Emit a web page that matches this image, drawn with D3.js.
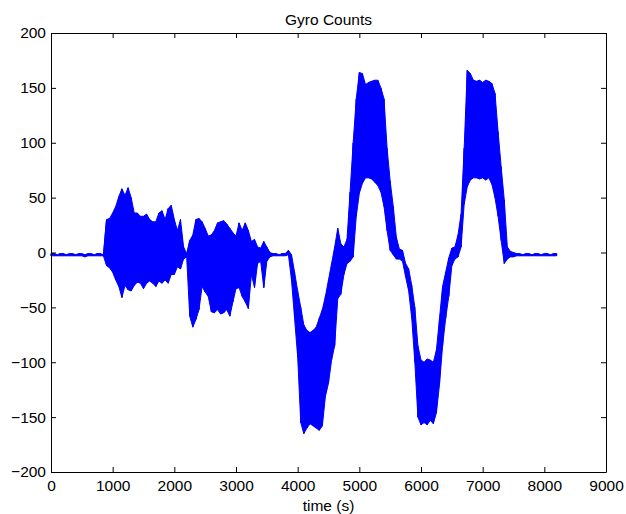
<!DOCTYPE html>
<html>
<head>
<meta charset="utf-8">
<script src="https://cdn.jsdelivr.net/npm/d3@7"></script>
<style>
  body { margin: 0; background: #fff; }
  svg { display: block; }
  .axis text { font-family: "Liberation Sans", Arial, Helvetica, sans-serif; font-size: 15.5px; fill: #000; }
  .axis path, .axis line { stroke: #000; stroke-width: 1; }
  .aText { font-family: "Liberation Sans", Arial, Helvetica, sans-serif; font-size: 15.5px; fill: #000; }
</style>
</head>
<body>
<div id="chart"></div>
<script>
// sample times (s)
var times = [
  0, 50, 100, 150, 200, 250, 300, 350, 400, 450, 500, 550, 600, 650, 700, 750, 800, 850,
  900, 950, 1000, 1050, 1100, 1150, 1200, 1250, 1300, 1350,
  1400, 1450, 1500, 1550, 1600, 1650, 1700, 1750, 1800, 1850,
  1900, 1950, 2000, 2050, 2100, 2150, 2200, 2250, 2300, 2350,
  2400, 2450, 2500, 2550, 2600, 2650, 2700, 2750, 2800, 2850,
  2900, 2950, 3000, 3050, 3100, 3150, 3200, 3250, 3300, 3350,
  3400, 3450, 3500, 3550, 3600, 3650, 3700, 3750, 3800, 3850,
  3900, 3950, 4000, 4050, 4100, 4150, 4200, 4250, 4300, 4350,
  4400, 4450, 4500, 4550, 4600, 4650, 4700, 4750, 4800, 4850,
  4900, 4950, 5000, 5050, 5100, 5150, 5200, 5250, 5300, 5350,
  5400, 5450, 5500, 5550, 5600, 5650, 5700, 5750, 5800, 5850,
  5900, 5950, 6000, 6050, 6100, 6150, 6200, 6250, 6300, 6350,
  6400, 6450, 6500, 6550, 6600, 6650, 6700, 6750, 6800, 6850,
  6900, 6950, 7000, 7050, 7100, 7150, 7200, 7250, 7300, 7350,
  7400, 7450, 7500, 7550, 7600, 7650, 7700, 7750, 7800, 7850,
  7900, 7950, 8000, 8050, 8100, 8150, 8200
];

// upper swing of the gyro signal at each sample
var countsHigh = [
  -1, -1, -2, -1, -1, -2, -1, -1, -2, -1, -1, -2, -1, -1, -2, -1, -1, -2,
  30, 31, 36, 42, 51, 58, 52, 59, 50, 36,
  36, 33, 33, 35, 30, 28, 28, 36, 38, 30,
  40, 43, 30, 20, 30, 5, -1, 11, 16, 30,
  31, 28, 22, 15, 16, 20, 27, 28, 29, 26,
  22, 18, 15, 27, 20, 27, 20, 10, 12, 5,
  4, 10, 5, 0, -1, -1, -2, -1, -1, 2,
  -2, -18, -35, -50, -66, -71, -73, -71, -68, -60,
  -52, -40, -25, -10, 5, 22, 8, 5, 12, 55,
  100, 140, 164, 163, 153, 155, 156, 157, 157, 150,
  140, 95, 65, 42, 14, 3, 2, -10, -15, -30,
  -50, -85, -98, -100, -97, -98, -100, -89, -60, -31,
  -18, -5, 4, 5, 16, 35, 95, 166, 163, 157,
  156, 157, 155, 157, 156, 154, 145, 110, 78, 48,
  5, 1, 0, -1, -1, -2, -1, -1, -2, -1,
  -1, -2, -1, -1, -2, -1, -1
];

// lower swing of the gyro signal at each sample
var countsLow = [
  -3, -3, -3, -3, -3, -3, -3, -3, -3, -3, -3, -4, -3, -3, -3, -3, -3, -3,
  -12, -14, -18, -25, -31, -41, -30, -34, -35, -30,
  -27, -28, -33, -28, -26, -28, -31, -26, -28, -25,
  -28, -20, -20, -13, -15, -6, -4, -58, -68, -61,
  -52, -31, -36, -40, -54, -55, -52, -56, -55, -52,
  -58, -45, -33, -32, -40, -45, -51, -20, -32, -10,
  -8, -32, -8, -4, -3, -3, -3, -3, -3, -2,
  -25, -60, -95, -155, -165, -160, -156, -158, -160, -162,
  -158, -131, -119, -98, -85, -42, -38, -20, -10, -8,
  -4, 33, 54, 63, 68, 68, 67, 64, 61, 55,
  42, 20, 2, -2, -6, -6, -8, -22, -35, -60,
  -100, -150, -157, -155, -157, -153, -156, -146, -120, -85,
  -60, -40, -12, -6, -4, 5, 44, 60, 66, 68,
  68, 67, 68, 66, 68, 62, 50, 33, 11, -10,
  -6, -4, -4, -3, -3, -3, -3, -3, -3, -3,
  -3, -3, -3, -3, -3, -3, -3
];

var xTicks = [0, 1000, 2000, 3000, 4000, 5000, 6000, 7000, 8000, 9000];
var yTicks = [-200, -150, -100, -50, 0, 50, 100, 150, 200];

var svgWidth = 626;
var svgHeight = 514;

var margin = {
  top: 33,
  right: 20,
  bottom: 42,
  left: 51
};

var width = svgWidth - margin.left - margin.right;
var height = svgHeight - margin.top - margin.bottom;

var svg = d3.select("#chart")
  .append("svg")
  .attr("width", svgWidth)
  .attr("height", svgHeight);

var chartGroup = svg.append("g")
  .attr("transform", `translate(${margin.left}, ${margin.top})`);

var xScale = d3.scaleLinear()
  .domain([0, 9000])
  .range([0, width]);
var yScale = d3.scaleLinear()
  .domain([-200, 200])
  .range([height, 0]);

var samples = times.map(function (t, i) {
  return { t: t, hi: countsHigh[i], lo: countsLow[i] };
});

// the dense oscillation reads as a solid band between the two swings
var band = d3.area()
  .x(function (d) { return xScale(d.t); })
  .y0(function (d) { return yScale(d.lo); })
  .y1(function (d) { return yScale(d.hi); });

chartGroup.append("path")
  .datum(samples)
  .attr("fill", "#0000ff")
  .attr("stroke", "#0000ff")
  .attr("stroke-width", 1)
  .attr("d", band);

// and the trace itself, swinging high/low at every sample
var points = [];
samples.forEach(function (d) {
  points.push([d.t, d.hi]);
  points.push([d.t, d.lo]);
});

var line = d3.line()
  .x(function (d) { return xScale(d[0]); })
  .y(function (d) { return yScale(d[1]); });

chartGroup.append("path")
  .datum(points)
  .attr("fill", "none")
  .attr("stroke", "#0000ff")
  .attr("stroke-width", 1)
  .attr("d", line);

// MATLAB style box with ticks pointing inward
var plain = function (d) { return d < 0 ? "\u2212" + Math.abs(d) : String(d); };

chartGroup.append("g")
  .attr("class", "axis")
  .attr("transform", `translate(0, ${height})`)
  .call(d3.axisBottom(xScale).tickValues(xTicks).tickSizeInner(-5).tickSizeOuter(0).tickPadding(8).tickFormat(plain));
chartGroup.append("g")
  .attr("class", "axis")
  .call(d3.axisTop(xScale).tickValues(xTicks).tickSizeInner(-5).tickSizeOuter(0).tickFormat(""));
chartGroup.append("g")
  .attr("class", "axis")
  .call(d3.axisLeft(yScale).tickValues(yTicks).tickSizeInner(-5).tickSizeOuter(0).tickPadding(5).tickFormat(plain));
chartGroup.append("g")
  .attr("class", "axis")
  .attr("transform", `translate(${width}, 0)`)
  .call(d3.axisRight(yScale).tickValues(yTicks).tickSizeInner(-5).tickSizeOuter(0).tickFormat(""));

chartGroup.selectAll(".axis .tick text").attr("fill", "#000");

chartGroup.append("text")
  .attr("class", "aText")
  .attr("x", width / 2)
  .attr("y", -8)
  .attr("text-anchor", "middle")
  .text("Gyro Counts");

chartGroup.append("text")
  .attr("class", "aText")
  .attr("x", width / 2)
  .attr("y", height + 39)
  .attr("text-anchor", "middle")
  .text("time (s)");
</script>
</body>
</html>
